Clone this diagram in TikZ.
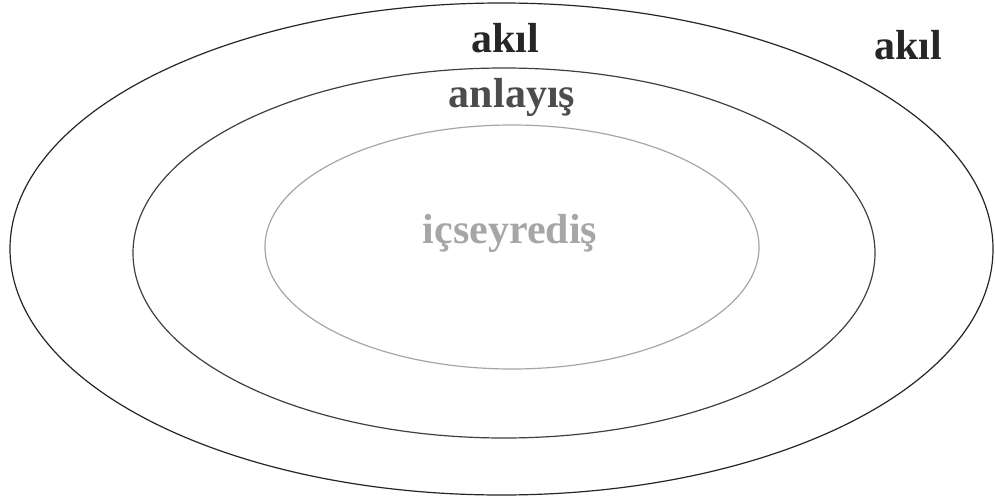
\documentclass[tikz,border=0pt]{standalone}
\usepackage{fontspec}
\setmainfont{Liberation Serif}
\begin{document}
\begin{tikzpicture}[x=1pt,y=-1pt,
  ring/.style={line width=1.2pt},
  lbl/.style={font=\fontsize{42}{42}\selectfont\bfseries, inner sep=0pt}]
\useasboundingbox (0,0) rectangle (995,503);
\fill[white] (0,0) rectangle (995,503);
\draw[ring, draw=black!85] (501.5,249) ellipse [x radius=491.5, y radius=246];
\draw[ring, draw=black!75] (504,253) ellipse [x radius=371, y radius=185];
\draw[ring, draw=black!35] (512,247) ellipse [x radius=247, y radius=122];
\node[lbl, text=black!85] (akil1) at (505,38) {akıl};
\node[lbl, text=black!85] (akil2) at (908,45) {akıl};
\node[lbl, text=black!70] (anlayis) at (512,97) {anlayış};
\node[lbl, text=black!35] (icseyredis) at (510,233) {içseyrediş};
\end{tikzpicture}
\end{document}
